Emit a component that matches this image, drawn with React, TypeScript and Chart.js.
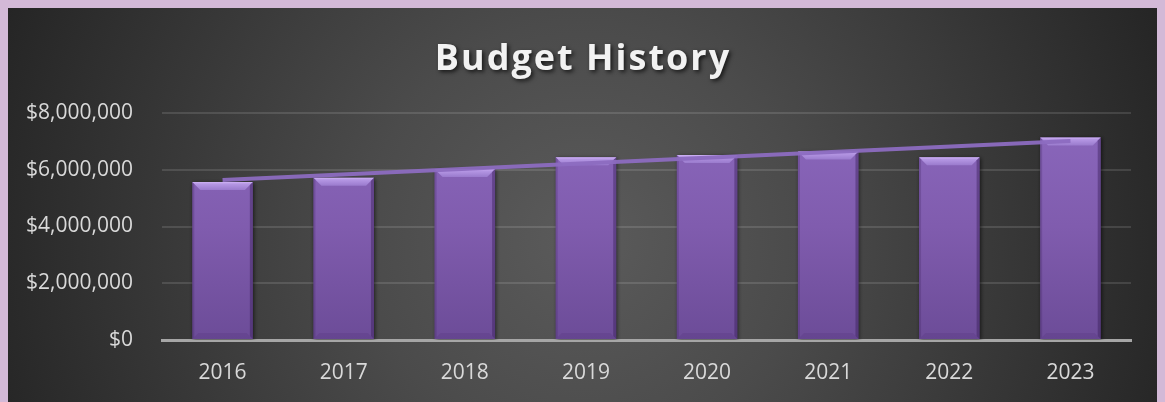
import React, { useEffect, useRef } from "react";
import { Chart, registerables } from "chart.js";

Chart.register(...registerables);

const categories = ["2016", "2017", "2018", "2019", "2020", "2021", "2022", "2023"];
const budget = [5570000, 5720000, 6030000, 6440000, 6520000, 6640000, 6440000, 7140000];
// linear trendline endpoints (first and last year only)
const trend: (number | null)[] = [5640000, null, null, null, null, null, null, 7010000];
const yTickValues = [0, 2000000, 4000000, 6000000, 8000000];
const chartTitle = "Budget History";

const FONT = "'Open Sans', 'DejaVu Sans', sans-serif";

const backgroundPlugin = {
  id: "bgPlugin",
  beforeDraw(chart: any) {
    const { ctx, width, height } = chart;
    ctx.save();
    const g = ctx.createRadialGradient(575, 230, 0, 575, 230, 620);
    g.addColorStop(0, "#5b5b5b");
    g.addColorStop(0.35, "#4b4b4b");
    g.addColorStop(1, "#252525");
    ctx.fillStyle = g;
    ctx.fillRect(0, 0, width, height);
    ctx.restore();
  },
};

const titlePlugin = {
  id: "titlePlugin",
  afterDraw(chart: any) {
    const { ctx, width } = chart;
    ctx.save();
    ctx.font = `bold 36px ${FONT}`;
    (ctx as any).letterSpacing = "2px";
    ctx.textAlign = "center";
    ctx.textBaseline = "alphabetic";
    ctx.shadowColor = "rgba(0,0,0,0.7)";
    ctx.shadowBlur = 4;
    ctx.shadowOffsetX = 2;
    ctx.shadowOffsetY = 2;
    ctx.fillStyle = "#f2f2f2";
    ctx.fillText(chartTitle, width / 2, 62);
    ctx.restore();
  },
};

const bevelPlugin = {
  id: "bevelPlugin",
  beforeDatasetDraw(chart: any, args: any) {
    if (args.meta.type !== "bar") return;
    const ctx = chart.ctx;
    ctx.save();
    ctx.shadowColor = "rgba(0,0,0,0.6)";
    ctx.shadowBlur = 4;
    ctx.shadowOffsetX = 1;
    ctx.shadowOffsetY = 1;
  },
  afterDatasetDraw(chart: any, args: any) {
    if (args.meta.type !== "bar") return;
    const ctx = chart.ctx;
    ctx.restore();
    ctx.save();
    args.meta.data.forEach((bar: any) => {
      const { x, y, base, width } = bar.getProps(["x", "y", "base", "width"], true);
      const l = x - width / 2;
      const r = x + width / 2;
      const t = y;
      const b = base;
      const bv = 8;
      // top bevel
      const gt = ctx.createLinearGradient(0, t, 0, t + bv);
      gt.addColorStop(0, "#d0b4f6");
      gt.addColorStop(0.25, "#b597e4");
      gt.addColorStop(1, "#9a7bcd");
      ctx.fillStyle = gt;
      ctx.beginPath();
      ctx.moveTo(l, t);
      ctx.lineTo(r, t);
      ctx.lineTo(r - bv, t + bv);
      ctx.lineTo(l + bv, t + bv);
      ctx.closePath();
      ctx.fill();
      // bottom bevel
      ctx.fillStyle = "rgba(70,40,110,0.18)";
      ctx.beginPath();
      ctx.moveTo(l, b);
      ctx.lineTo(r, b);
      ctx.lineTo(r - 6, b - 6);
      ctx.lineTo(l + 6, b - 6);
      ctx.closePath();
      ctx.fill();
      // right edge
      ctx.fillStyle = "rgba(50,25,80,0.4)";
      ctx.beginPath();
      ctx.moveTo(r, t);
      ctx.lineTo(r, b);
      ctx.lineTo(r - 3, b - 3);
      ctx.lineTo(r - 3, t + 3);
      ctx.closePath();
      ctx.fill();
      // left edge
      ctx.fillStyle = "rgba(60,30,90,0.25)";
      ctx.beginPath();
      ctx.moveTo(l, t);
      ctx.lineTo(l, b);
      ctx.lineTo(l + 2, b - 2);
      ctx.lineTo(l + 2, t + 2);
      ctx.closePath();
      ctx.fill();
    });
    ctx.restore();
  },
};

export default function App() {
  const canvasRef = useRef<HTMLCanvasElement | null>(null);

  useEffect(() => {
    document.documentElement.style.background = "#d3b9d7";
    document.body.style.background = "#d3b9d7";
    const canvas = canvasRef.current;
    if (!canvas) return;
    const chart = new Chart(canvas, {
      data: {
        labels: categories,
        datasets: [
          {
            type: "line" as const,
            label: "Trend",
            data: trend,
            spanGaps: true,
            borderColor: "rgba(140,108,192,0.95)",
            borderWidth: 4,
            pointRadius: 0,
            pointHoverRadius: 0,
            tension: 0,
            order: 0,
          },
          {
            type: "bar" as const,
            label: "Budget",
            data: budget,
            order: 1,
            barPercentage: 0.5,
            categoryPercentage: 1,
            borderWidth: 0,
            backgroundColor: (c: any) => {
              const area = c.chart.chartArea;
              if (!area) return "#7e5ba8";
              const g = c.chart.ctx.createLinearGradient(0, area.top, 0, area.bottom);
              g.addColorStop(0, "#8b68bd");
              g.addColorStop(0.5, "#805cae");
              g.addColorStop(1, "#6c4c98");
              return g;
            },
          },
        ],
      },
      options: {
        animation: false,
        responsive: false,
        maintainAspectRatio: false,
        layout: { padding: { top: 105, right: 27, left: 0, bottom: 0 } },
        plugins: {
          legend: { display: false },
          title: { display: false },
          tooltip: { enabled: false },
        },
        scales: {
          x: {
            grid: { display: false, drawTicks: false },
            border: { display: true, color: "#a6a6a6", width: 3 },
            ticks: {
              color: "#d9d9d9",
              font: { family: FONT, size: 21 },
              padding: 20,
            },
            afterFit: (s: any) => {
              s.height = 62;
            },
          },
          y: {
            min: 0,
            max: 8000000,
            afterBuildTicks: (s: any) => {
              s.ticks = yTickValues.map((v) => ({ value: v }));
            },
            grid: {
              drawTicks: false,
              color: (c: any) => (c.tick && c.tick.value === 0 ? "rgba(0,0,0,0)" : "rgba(255,255,255,0.12)"),
              lineWidth: 2,
            },
            border: { display: false },
            ticks: {
              color: "#d9d9d9",
              font: { family: FONT, size: 21 },
              padding: 29,
              callback: (v: any) => "$" + Number(v).toLocaleString("en-US"),
            },
            afterFit: (s: any) => {
              s.width = 154;
            },
          },
        },
      },
      plugins: [backgroundPlugin, bevelPlugin, titlePlugin],
    } as any);
    return () => chart.destroy();
  }, []);

  return (
    <div style={{ width: 1150, height: 394 }}>
      <canvas ref={canvasRef} width={1150} height={394} style={{ display: "block", width: 1150, height: 394 }} />
    </div>
  );
}
